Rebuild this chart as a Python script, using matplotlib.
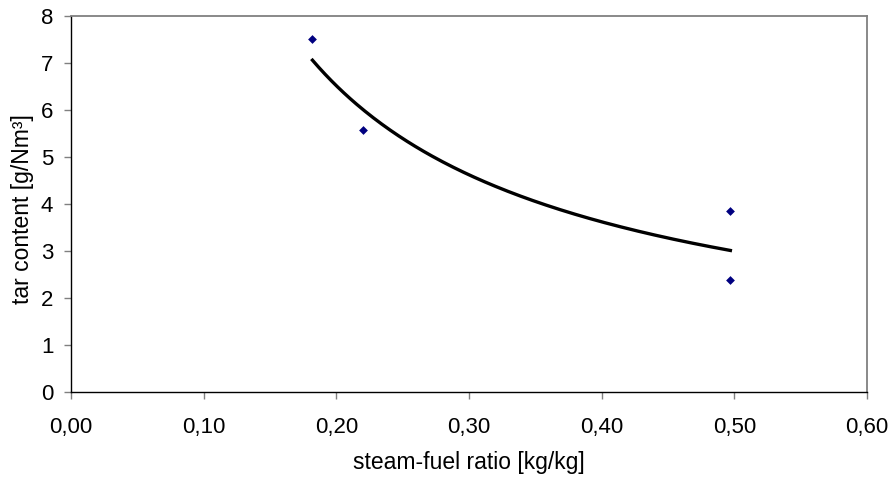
import numpy as np
import matplotlib
matplotlib.use("Agg")
import matplotlib.pyplot as plt
from matplotlib.ticker import FuncFormatter

plt.rcParams['font.family'] = ['Liberation Sans', 'DejaVu Sans']

steam_fuel = [0.182, 0.220, 0.497, 0.497]
tar = [7.51, 5.57, 3.85, 2.39]
x_ticks = [0.0, 0.1, 0.2, 0.3, 0.4, 0.5, 0.6]
y_ticks = [0, 1, 2, 3, 4, 5, 6, 7, 8]

# power trend line fitted to the data
b, lna = np.polyfit(np.log(steam_fuel), np.log(tar), 1)
xf = np.linspace(min(steam_fuel), max(steam_fuel), 200)
yf = np.exp(lna) * xf ** b

fig = plt.figure(figsize=(8.92, 4.79), dpi=100)
ax = fig.add_axes([0.0796, 0.1816, 0.8924, 0.785])
ax.plot(xf, yf, color='black', lw=2.4, zorder=2)
ax.scatter(steam_fuel, tar, marker='D', s=20, color='#000080', zorder=3, linewidths=0)

ax.set_xlim(0, 0.6)
ax.set_ylim(0, 8)
ax.set_xticks(x_ticks)
ax.set_yticks(y_ticks)
ax.xaxis.set_major_formatter(FuncFormatter(lambda v, p: f"{v:.2f}".replace('.', ',')))
ax.tick_params(direction='out', length=4.7, width=1, labelsize=16, labelcolor='black', color='#808080')
ax.tick_params(axis='x', pad=13)
ax.tick_params(axis='y', pad=8)
for s in ['top', 'right']:
    ax.spines[s].set_color('#808080')
    ax.spines[s].set_linewidth(1.3)
for s in ['left', 'bottom']:
    ax.spines[s].set_color('black')
    ax.spines[s].set_linewidth(1)
ax.set_xlabel('steam-fuel ratio [kg/kg]', fontsize=16.5, labelpad=10)
ax.set_ylabel('tar content [g/Nm³]', fontsize=16.5, labelpad=5)
ax.yaxis.label.set_y(0.487)

fig.savefig('out.png', dpi=100)
